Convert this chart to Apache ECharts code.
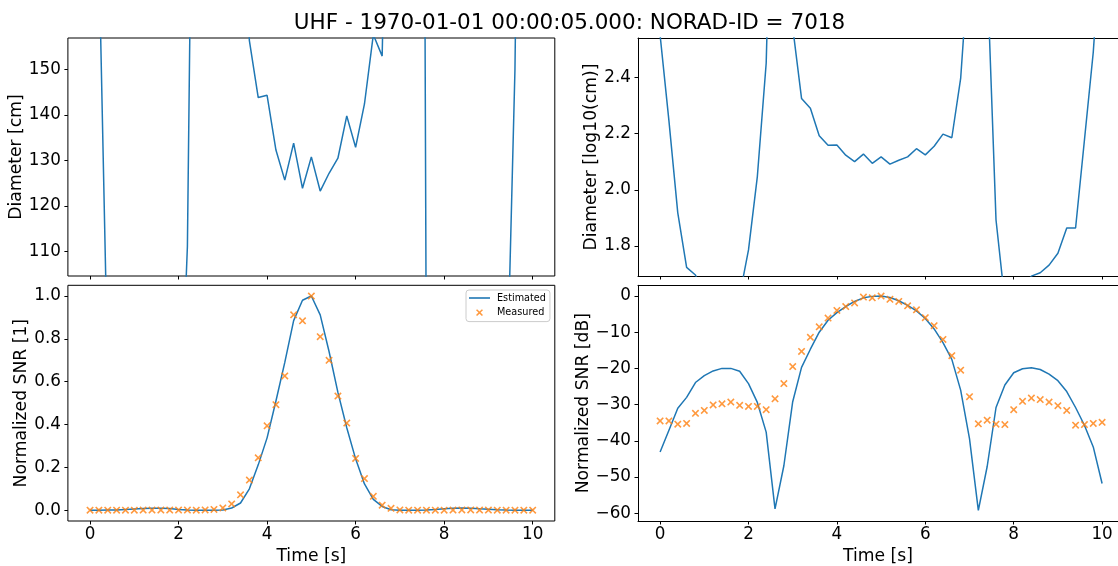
<!DOCTYPE html>
<html>
<head>
<meta charset="utf-8">
<script src="https://cdn.jsdelivr.net/npm/echarts@6/dist/echarts.min.js"></script>
<style>html,body{margin:0;padding:0;background:#fff;}#c{width:1118px;height:566px;}</style>
</head>
<body>
<div id="c"></div>
<script>
const titleText = 'UHF - 1970-01-01 00:00:05.000: NORAD-ID = 7018';
const timeS = [0,0.2,0.4,0.6,0.8,1.0,1.2,1.4,1.6,1.8,2.0,2.2,2.4,2.6,2.8,3.0,3.2,3.4,3.6,3.8,4.0,4.2,4.4,4.6,4.8,5.0,5.2,5.4,5.6,5.8,6.0,6.2,6.4,6.6,6.8,7.0,7.2,7.4,7.6,7.8,8.0,8.2,8.4,8.6,8.8,9.0,9.2,9.4,9.6,9.8,10.0];
const diameterCm = [355,175.7,83.5,53,49.8,41.7,42.7,40.7,43.2,42,61.1,111.2,282,4170,1740,378,211,195,156.3,143.8,144.3,132.3,125.7,133.8,123.9,130.8,123.3,127.2,130.5,139.8,132.9,142.4,157.6,152.9,249,708,1995,592,78,40.1,38.9,44.7,49.3,50.7,54,59.4,73.1,73.1,150,308,891];
const diameterLog = [2.55,2.245,1.918,1.724,1.697,1.62,1.63,1.61,1.635,1.623,1.786,2.047,2.45,3.62,3.24,2.578,2.325,2.290,2.192,2.158,2.159,2.123,2.100,2.127,2.094,2.117,2.091,2.105,2.117,2.146,2.124,2.155,2.198,2.185,2.396,2.85,3.3,2.772,1.8925,1.603,1.59,1.65,1.693,1.705,1.732,1.774,1.864,1.864,2.176,2.489,2.95];
const snrLinEst = [0.00005,0.0002,0.0008,0.0016,0.0041,0.0063,0.0085,0.010,0.010,0.0083,0.0038,0.0011,0.0002,0.0,0.00002,0.0012,0.0107,0.034,0.10,0.212,0.338,0.51,0.69,0.885,0.98,1.0,0.912,0.741,0.55,0.385,0.24,0.123,0.051,0.018,0.0025,0.0001,0.0,0.0,0.0008,0.0035,0.0076,0.0098,0.0105,0.0093,0.0069,0.0046,0.0023,0.0008,0.0003,0.00007,0.00001];
const snrLinMeas = [0.00035,0.00035,0.00029,0.0003,0.00058,0.00069,0.00098,0.00105,0.00117,0.00095,0.00089,0.00089,0.00072,0.00145,0.0038,0.0112,0.0295,0.072,0.141,0.245,0.394,0.493,0.627,0.912,0.884,1.0,0.81,0.70,0.533,0.407,0.242,0.148,0.065,0.024,0.009,0.0017,0.0003,0.00037,0.00029,0.00028,0.00072,0.00123,0.0015,0.00138,0.00117,0.00093,0.00069,0.00027,0.00028,0.0003,0.00032];
const snrDbEst = [-43.1,-37.1,-31.0,-28.0,-23.9,-22.0,-20.7,-20.0,-20.0,-20.8,-24.2,-29.4,-37.6,-58.8,-46.9,-29.2,-19.7,-14.7,-10.0,-6.7,-4.6,-2.9,-1.5,-0.5,-0.1,0.0,-0.4,-1.3,-2.6,-4.1,-6.2,-9.1,-12.9,-17.5,-26.0,-39.4,-59.2,-47.1,-30.8,-24.6,-21.2,-20.1,-19.8,-20.3,-21.6,-23.4,-26.4,-30.8,-35.7,-41.7,-51.8];
const snrDbMeas = [-34.5,-34.5,-35.4,-35.2,-32.4,-31.6,-30.1,-29.8,-29.3,-30.2,-30.5,-30.5,-31.4,-28.4,-24.2,-19.5,-15.3,-11.4,-8.5,-6.1,-4.0,-2.9,-1.9,-0.3,-0.5,0.0,-0.9,-1.5,-2.7,-3.8,-6.0,-8.2,-12.0,-16.5,-20.5,-27.8,-35.3,-34.3,-35.4,-35.5,-31.4,-29.1,-28.2,-28.6,-29.3,-30.3,-31.6,-35.7,-35.5,-35.2,-34.9];
const xTicks = [0,2,4,6,8,10];
const cmTicks = [110,120,130,140,150];
const logTicks = [1.8,2.0,2.2,2.4];
const linTicks = [0,0.2,0.4,0.6,0.8,1.0];
const dbTicks = [-60,-50,-40,-30,-20,-10,0];

const FONT = 'DejaVu Sans';
const BLUE = '#1f77b4', ORANGE = '#ff7f0e';
const XBODY = 'M0,1.5 L1.5,0 L5,3.5 L8.5,0 L10,1.5 L6.5,5 L10,8.5 L8.5,10 L5,6.5 L1.5,10 L0,8.5 L3.5,5 Z';
const XPATH = 'path://' + XBODY;
const XLEGEND = 'path://M-2.2,-2.2 L-2.2,-2.2 Z M12.2,12.2 L12.2,12.2 Z ' + XBODY;
const LINELEGEND = 'path://M0,0 L21,0 L21,1.6 L0,1.6 Z';
const pairs = ys => timeS.map((t, i) => [t, ys[i]]);
const minus = s => String(s).replace('-', '\u2212');

// Left panels: full frame. Right panels: x range runs past the canvas edge (right spine cut off).
const PX_PER_S_R = 44.2;
const RIGHT_LEFT = 638;
const RIGHT_XMAX = -0.5 + (1118 - RIGHT_LEFT) / PX_PER_S_R;
const SPINE = {show: true, lineStyle: {color: '#000', width: 1}};

const grids = [
  {left: 67.9, width: 486.9, top: 38, height: 238, show: true},
  {left: RIGHT_LEFT, right: 0, top: 38, height: 238, show: false},
  {left: 67.9, width: 486.9, top: 285.3, height: 238, show: true},
  {left: RIGHT_LEFT, right: 0, top: 285.3, height: 238, show: false}
].map(g => Object.assign({borderColor: '#000', borderWidth: 1, containLabel: false}, g));

function xAxis(i, labels, xmax, spine) {
  return {
    type: 'value', gridIndex: i, min: -0.5, max: xmax, position: 'bottom',
    name: labels ? 'Time [s]' : '', nameLocation: 'middle', nameGap: 27,
    nameTextStyle: {fontFamily: FONT, fontSize: 17.2, color: '#000'},
    axisLine: spine ? Object.assign({onZero: false}, SPINE) : {show: false, onZero: false},
    splitLine: {show: false},
    axisTick: {show: true, inside: false, length: 3.5, lineStyle: {color: '#000', width: 1}, customValues: xTicks},
    axisLabel: {show: labels, customValues: xTicks, fontFamily: FONT, fontSize: 16.8, color: '#000', margin: 5}
  };
}
function topSpine(i, xmax) {
  return {
    type: 'value', gridIndex: i, min: -0.5, max: xmax, position: 'top',
    axisLine: Object.assign({onZero: false}, SPINE),
    axisTick: {show: false}, axisLabel: {show: false}, splitLine: {show: false}
  };
}
function yAxis(i, name, min, max, ticks, fmt, gap, spine) {
  return {
    type: 'value', gridIndex: i, min: min, max: max, position: 'left',
    name: name, nameLocation: 'middle', nameRotate: 90, nameGap: gap,
    nameTextStyle: {fontFamily: FONT, fontSize: 17.2, color: '#000'},
    axisLine: spine ? Object.assign({onZero: false}, SPINE) : {show: false, onZero: false},
    splitLine: {show: false},
    axisTick: {show: true, inside: false, length: 3.5, lineStyle: {color: '#000', width: 1}, customValues: ticks},
    axisLabel: {customValues: ticks, formatter: fmt, fontFamily: FONT, fontSize: 16.8, color: '#000', margin: 7}
  };
}

const lineSeries = (name, xi, ys) => ({
  name: name, type: 'line', xAxisIndex: xi, yAxisIndex: xi, data: pairs(ys),
  symbol: 'none', showSymbol: false, clip: true,
  lineStyle: {color: BLUE, width: 1.5}, itemStyle: {color: BLUE}, z: 2
});
const scatterSeries = (name, xi, ys) => ({
  name: name, type: 'scatter', xAxisIndex: xi, yAxisIndex: xi, data: pairs(ys),
  symbol: XPATH, symbolSize: 7.5, clip: false,
  itemStyle: {color: ORANGE}, z: 3
});

const option = {
  animation: false,
  backgroundColor: '#fff',
  title: {
    text: titleText, left: 564.5, top: 7, textAlign: 'center',
    textStyle: {fontFamily: FONT, fontSize: 21.5, fontWeight: 'normal', color: '#000'}
  },
  legend: {
    left: 466, top: 290, orient: 'vertical',
    data: [{name: 'Estimated', icon: LINELEGEND}, {name: 'Measured', icon: XLEGEND}],
    itemWidth: 21, itemHeight: 10, itemGap: 4.6,
    padding: [3, 4, 4, 3],
    borderColor: '#cccccc', borderWidth: 1, borderRadius: 3,
    backgroundColor: 'rgba(255,255,255,0.8)',
    textStyle: {fontFamily: FONT, fontSize: 9.7, color: '#000', padding: [0, 0, 0, 2]},
    selectedMode: false
  },
  grid: grids,
  xAxis: [
    xAxis(0, false, 10.5, false), xAxis(1, false, RIGHT_XMAX, true),
    xAxis(2, true, 10.5, false), xAxis(3, true, RIGHT_XMAX, true),
    topSpine(1, RIGHT_XMAX), topSpine(3, RIGHT_XMAX)
  ],
  yAxis: [
    yAxis(0, 'Diameter [cm]', 104.67, 156.87, cmTicks, v => String(Math.round(v)), 37.5, false),
    yAxis(1, 'Diameter [log10(cm)]', 1.6933, 2.5398, logTicks, v => v.toFixed(1), 33, true),
    yAxis(2, 'Normalized SNR [1]', -0.05, 1.05, linTicks, v => v.toFixed(1), 33, false),
    yAxis(3, 'Normalized SNR [dB]', -62.16, 2.96, dbTicks, v => minus(Math.round(v)), 40, true)
  ],
  series: [
    lineSeries('Diameter', 0, diameterCm),
    lineSeries('Diameter log', 1, diameterLog),
    lineSeries('Estimated', 2, snrLinEst),
    scatterSeries('Measured', 2, snrLinMeas),
    lineSeries('Estimated', 3, snrDbEst),
    scatterSeries('Measured', 3, snrDbMeas)
  ]
};
const chart = echarts.init(document.getElementById('c'), null, {renderer: 'canvas'});
chart.setOption(option);
</script>
</body>
</html>
